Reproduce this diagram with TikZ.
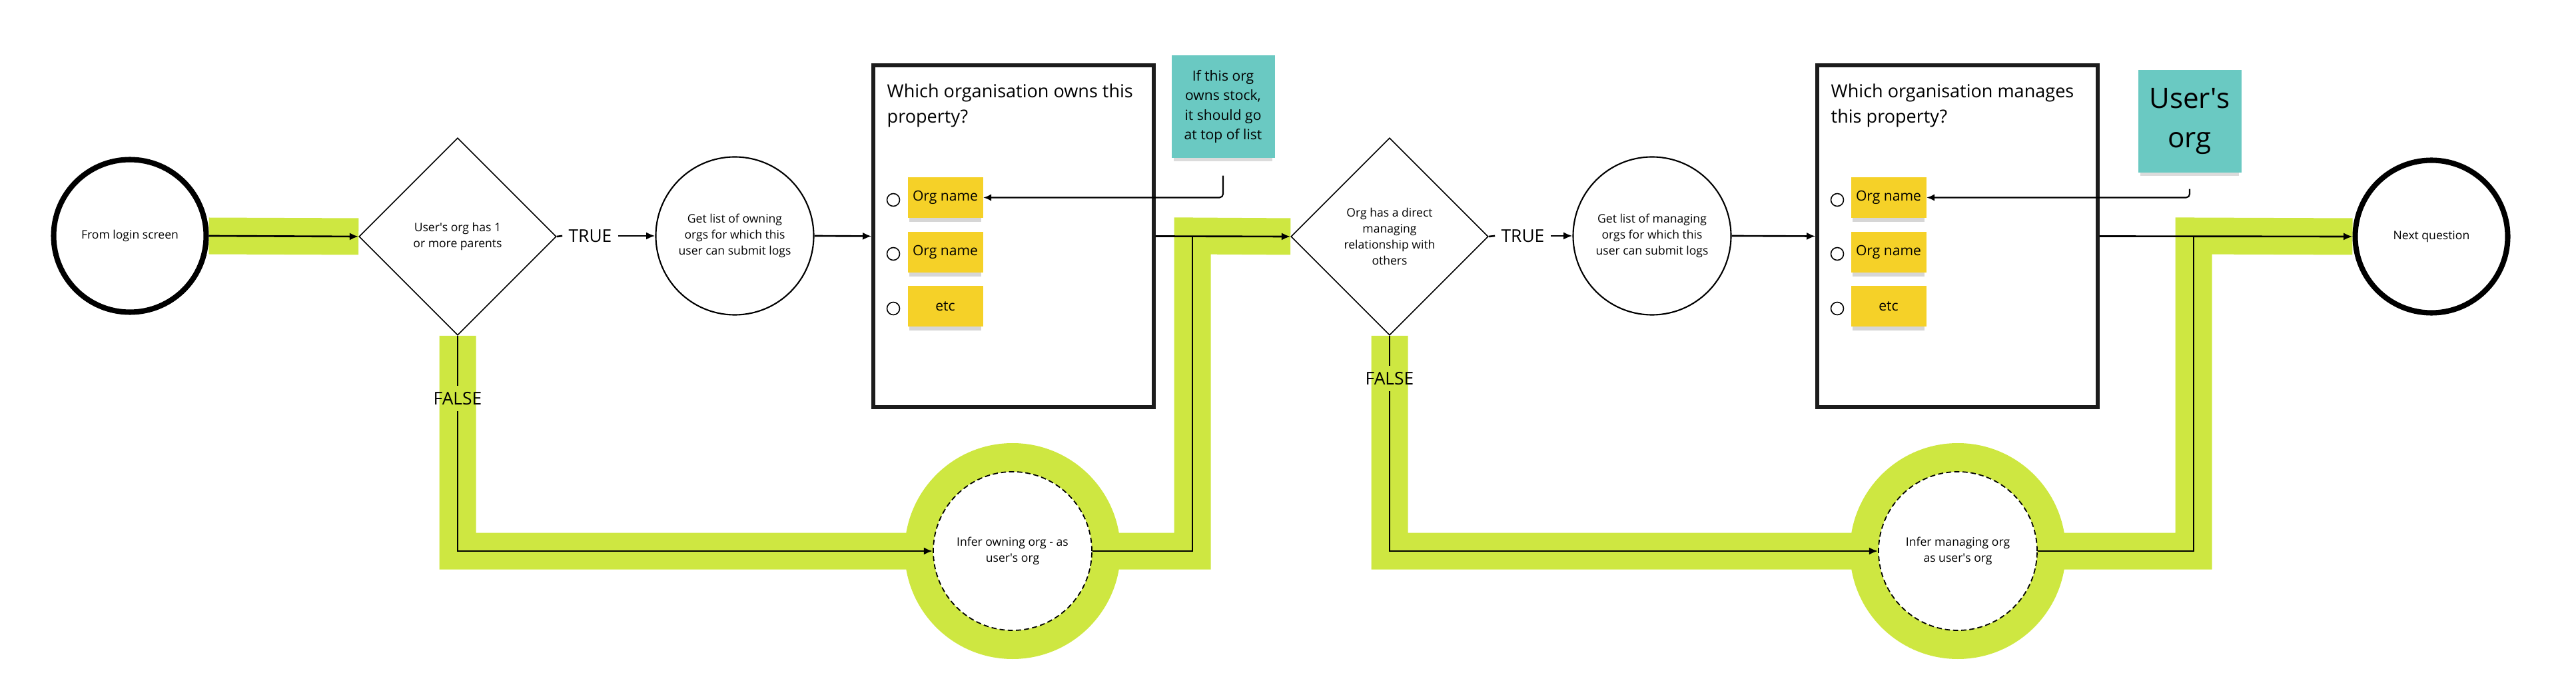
\documentclass[tikz,border=0pt]{standalone}
\usepackage{fontspec}
\setmainfont{Open Sans}
\usetikzlibrary{positioning,arrows.meta,shapes.geometric,shadows}
\definecolor{lime}{RGB}{206,231,65}
\definecolor{stickyyellow}{RGB}{245,209,40}
\definecolor{stickyteal}{RGB}{106,201,194}
\definecolor{boxgrey}{RGB}{28,28,28}
\pgfdeclarelayer{background}
\pgfsetlayers{background,main}
\newcommand{\apo}{\textquotesingle}
\tikzset{
  small/.style={font=\fontsize{5}{6.8}\selectfont,align=center},
  term/.style={circle,draw=black,line width=2.3pt,minimum size=2.29cm,inner sep=0pt,small},
  proc/.style={circle,draw=black,line width=0.6pt,minimum size=2.37cm,inner sep=0pt,small},
  infer/.style={circle,draw=black,fill=white,line width=0.5pt,dash pattern=on 2.2pt off 1.3pt,
                minimum size=2.38cm,inner sep=0pt,small},
  ring/.style={circle,fill=lime,minimum size=3.24cm,inner sep=0pt},
  decide/.style={diamond,draw=black,line width=0.45pt,minimum width=2.96cm,minimum height=2.96cm,
                 inner sep=0pt,small},
  qbox/.style={draw=boxgrey,line width=1.5pt,minimum width=4.21cm,minimum height=5.13cm},
  qtitle/.style={anchor=north west,inner sep=0pt,font=\fontsize{7.7}{10.8}\selectfont,align=left},
  orgnote/.style={fill=stickyyellow,minimum width=1.13cm,minimum height=0.61cm,inner sep=0pt,
                  font=\fontsize{6}{7}\selectfont,
                  drop shadow={shadow xshift=0pt,shadow yshift=-2pt,shadow scale=0.96,opacity=0.16,fill=black}},
  radio/.style={circle,draw=black,line width=0.45pt,minimum size=0.19cm,inner sep=0pt},
  tealnote/.style={fill=stickyteal,minimum width=1.55cm,minimum height=1.54cm,inner sep=0pt,align=center,
                   drop shadow={shadow xshift=0pt,shadow yshift=-2.5pt,shadow scale=0.96,opacity=0.14,fill=black}},
  tf/.style={font=\fontsize{7.5}{9}\selectfont,inner sep=2.5pt},
  track/.style={draw=lime,line width=0.55cm},
  link/.style={draw=black,line width=0.75pt},
  flow/.style={link,-{Latex[length=3.8pt,width=3.2pt]}},
  notelink/.style={draw=black,line width=0.6pt,rounded corners=1.5pt,-{Latex[length=3.4pt,width=3pt]}}
}
\begin{document}
\begin{tikzpicture}[x=1cm,y=1cm]
  \useasboundingbox (0,0) rectangle (38.67,-10.34);
  \node[term] (S) at (1.95,-3.54) {From login screen};
  \node[decide] (D1) at (6.87,-3.55) {User\apo s org has 1\\or more parents};
  \node[tf] (T1) at (8.86,-3.54) {TRUE};
  \node[tf] (F1) at (6.87,-5.98) {FALSE};
  \node[proc] (G1) at (11.03,-3.54) {Get list of owning\\orgs for which this\\user can submit logs};
  \node[qbox] (Q1) at (15.215,-3.545) {};
  \node[qtitle] (Q1t) at (13.31,-1.25) {Which organisation owns this\\property?};
  \node[orgnote] (O1a) at (14.19,-2.965) {Org name};
  \node[orgnote] (O1b) at (14.19,-3.785) {Org name};
  \node[orgnote] (O1c) at (14.19,-4.60) {etc};
  \node[radio] (R1a) at (13.41,-3.00) {};
  \node[radio] (R1b) at (13.41,-3.81) {};
  \node[radio] (R1c) at (13.41,-4.63) {};
  \node[tealnote,font=\fontsize{6}{8.4}\selectfont] (N1) at (18.36,-1.60)
    {If this org\\owns stock,\\it should go\\at top of list};
  \node[ring] (I1r) at (15.20,-8.27) {};
  \node[infer] (I1) at (15.20,-8.27) {Infer owning org - as\\user\apo s org};
  \coordinate (J1) at (17.90,-3.54);

  \node[decide] (D2) at (20.86,-3.55) {Org has a direct\\managing\\relationship with\\others};
  \node[tf] (T2) at (22.86,-3.54) {TRUE};
  \node[tf] (F2) at (20.86,-5.68) {FALSE};
  \node[proc] (G2) at (24.80,-3.54) {Get list of managing\\orgs for which this\\user can submit logs};
  \node[qbox] (Q2) at (29.385,-3.545) {};
  \node[qtitle] (Q2t) at (27.48,-1.25) {Which organisation manages\\this property?};
  \node[orgnote] (O2a) at (28.35,-2.965) {Org name};
  \node[orgnote] (O2b) at (28.35,-3.785) {Org name};
  \node[orgnote] (O2c) at (28.35,-4.60) {etc};
  \node[radio] (R2a) at (27.58,-3.00) {};
  \node[radio] (R2b) at (27.58,-3.81) {};
  \node[radio] (R2c) at (27.58,-4.63) {};
  \node[tealnote,font=\fontsize{12}{16.8}\selectfont] (N2) at (32.87,-1.82) {User\apo s\\org};
  \node[ring] (I2r) at (29.39,-8.27) {};
  \node[infer] (I2) at (29.39,-8.27) {Infer managing org\\as user\apo s org};
  \coordinate (J2) at (32.93,-3.54);
  \node[term] (E) at (36.50,-3.55) {Next question};

  \begin{pgfonlayer}{background}
    \draw[track] (S.east) -- (D1.west);
    \draw[track] (D1.south) -- (D1.south |- I1) -- (J1 |- I1) -- (J1) -- (D2.west);
    \draw[track] (D2.south) -- (D2.south |- I2) -- (J2 |- I2) -- (J2) -- (E.west);
  \end{pgfonlayer}

  \draw[flow] (S.east) -- (D1.west);
  \draw[link] (D1.east) -- (T1.west);
  \draw[flow] (T1.east) -- (G1.west);
  \draw[flow] (G1.east) -- (Q1.west);
  \draw[flow] (Q1.east) -- (D2.west);
  \draw[link] (D1.south) -- (F1.north);
  \draw[flow] (F1.south) |- (I1.west);
  \draw[link] (I1.east) -| (J1);
  \draw[notelink,shorten <=0.26cm] (N1.south) |- (O1a.east);

  \draw[link] (D2.east) -- (T2.west);
  \draw[flow] (T2.east) -- (G2.west);
  \draw[flow] (G2.east) -- (Q2.west);
  \draw[flow] (Q2.east) -- (E.west);
  \draw[link] (D2.south) -- (F2.north);
  \draw[flow] (F2.south) |- (I2.west);
  \draw[link] (I2.east) -| (J2);
  \draw[notelink,shorten <=0.24cm] (N2.south) |- (O2a.east);
\end{tikzpicture}
\end{document}
